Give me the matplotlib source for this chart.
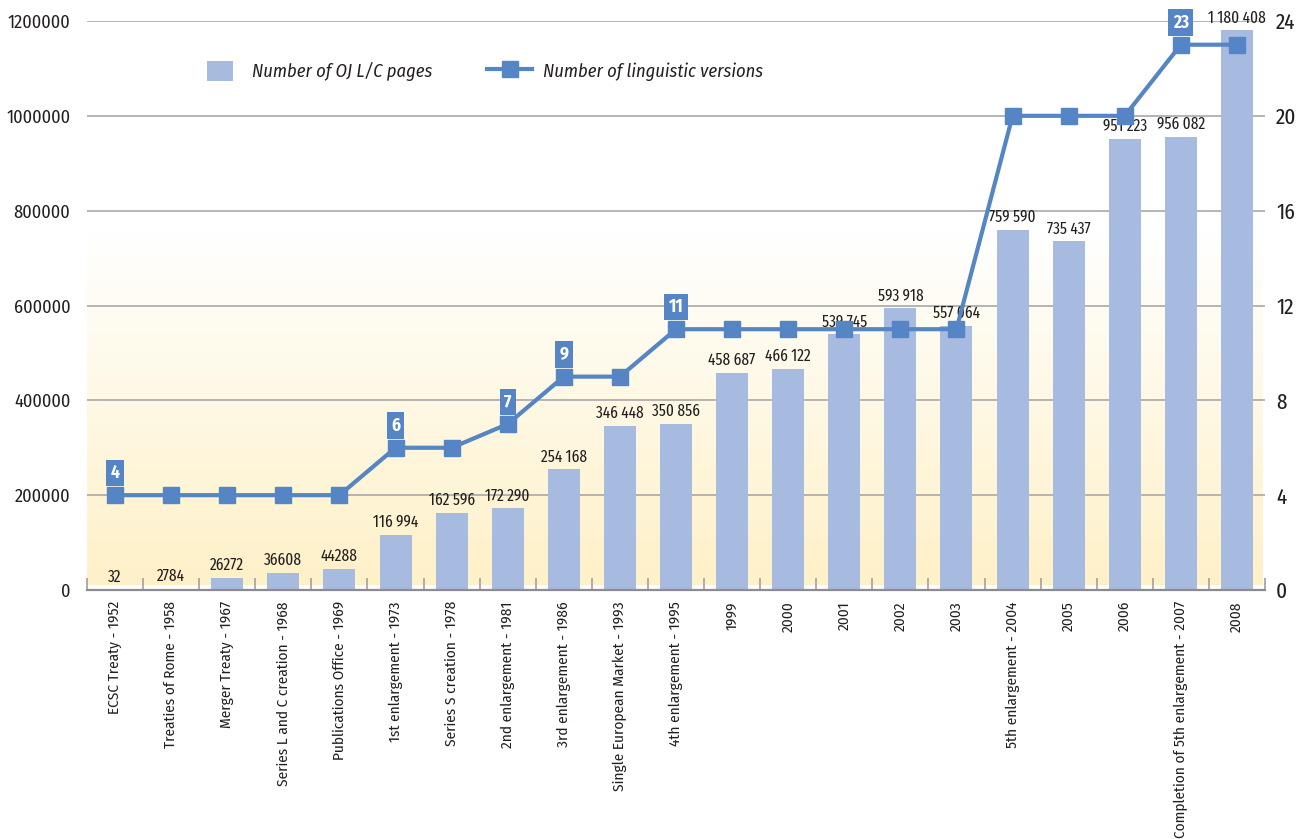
import matplotlib
matplotlib.use("Agg")
import matplotlib.pyplot as plt
import numpy as np
from matplotlib.colors import LinearSegmentedColormap
from matplotlib.ticker import FixedLocator
from matplotlib.legend_handler import HandlerPatch
from matplotlib.patches import Rectangle

plt.rcParams['font.family'] = ['Fira Sans Condensed', 'DejaVu Sans']
NARROW = ['Fira Sans Extra Condensed', 'Fira Sans Condensed', 'DejaVu Sans']

categories = ["ECSC Treaty - 1952", "Treaties of Rome - 1958", "Merger Treaty - 1967",
              "Series L and C creation - 1968", "Publications Office - 1969",
              "1st enlargement - 1973", "Series S creation - 1978", "2nd enlargement - 1981",
              "3rd enlargement - 1986", "Single European Market - 1993", "4th enlargement - 1995",
              "1999", "2000", "2001", "2002", "2003", "5th enlargement - 2004", "2005", "2006",
              "Completion of 5th enlargement - 2007", "2008"]
pages = [32, 2784, 26272, 36608, 44288, 116994, 162596, 172290, 254168, 346448, 350856,
         458687, 466122, 539745, 593918, 557064, 759590, 735437, 951223, 956082, 1180408]
versions = [4, 4, 4, 4, 4, 6, 6, 7, 9, 9, 11, 11, 11, 11, 11, 11, 20, 20, 20, 23, 23]
boxed_idx = [0, 5, 7, 8, 10, 19]
left_ticks = [0, 200000, 400000, 600000, 800000, 1000000, 1200000]
right_ticks = [0, 4, 8, 12, 16, 20, 24]

bar_color = "#A7BBE1"
line_color = "#5585C5"
text_color = "#231F20"
grid_color = "#A8A8A8"

fig = plt.figure(figsize=(12.99, 8.39), dpi=100)
ax = fig.add_axes([87/1299, 1-590/839, (1265-87)/1299, (590-21)/839])
x = np.arange(len(categories))

# gradient background
cmap = LinearSegmentedColormap.from_list("bg", ["#FEF1C8", "#FFFFFF"])
grad = np.linspace(0, 1, 256).reshape(-1, 1)
ax.imshow(grad, cmap=cmap, origin="lower", aspect="auto",
          extent=[-0.5, 20.45, 10000, 760000], zorder=0)

ax.set_xlim(-0.5, 20.5)
ax.set_ylim(0, 1200000)
ax.set_yticks(left_ticks)
ax.set_yticklabels([str(t) for t in left_ticks], fontsize=13.2, color=text_color)
for t in left_ticks[1:]:
    ax.axhline(t, color=grid_color, lw=1.2, zorder=1)

bars = ax.bar(x, pages, width=0.57, color=bar_color, zorder=2, label="Number of OJ L/C pages")

def fmt(v):
    if v >= 100000:
        return f"{v:,}".replace(",", "\u2009")
    return str(v)

for xi, v in zip(x, pages):
    ax.annotate(fmt(v), (xi, v), xytext=(0, 3), textcoords="offset points",
                ha="center", va="bottom", fontsize=12, family=NARROW,
                color=text_color, zorder=5)

for s in ["top", "left", "right"]:
    ax.spines[s].set_visible(False)
ax.spines["bottom"].set_color("#8C8C8C")
ax.spines["bottom"].set_linewidth(1.6)
ax.set_xticks(x)
ax.set_xticklabels(categories, rotation=90, fontsize=11, color=text_color, va="top", ha="center")
ax.tick_params(axis="x", which="major", length=0, pad=8)
ax.xaxis.set_minor_locator(FixedLocator(np.arange(-0.5, 21, 1.0)))
ax.tick_params(axis="x", which="minor", direction="in", length=9, width=1.2, color="#A0A0A0")
ax.tick_params(axis="y", length=0, pad=12)

ax2 = ax.twinx()
ax2.set_ylim(0, 24)
ax2.set_yticks(right_ticks)
ax2.set_yticklabels([str(t) for t in right_ticks], fontsize=16.5, family=NARROW, color=text_color)
ax2.tick_params(axis="y", length=0, pad=8)
for s in ["top", "left", "right", "bottom"]:
    ax2.spines[s].set_visible(False)

line, = ax2.plot(x, versions, color=line_color, lw=3, marker="s", markersize=11,
                 zorder=4, label="Number of linguistic versions")

for i in boxed_idx:
    ax2.annotate(str(versions[i]), (x[i], versions[i]), xytext=(0, 16), textcoords="offset points",
                 ha="center", va="center", fontsize=12.5, fontweight="bold", color="white",
                 bbox=dict(boxstyle="square,pad=0.25", fc=line_color, ec="none"), zorder=6)


class SmallPatch(HandlerPatch):
    def create_artists(self, legend, orig_handle, xdescent, ydescent, width, height, fontsize, trans):
        w, h = 18.7, 14.4
        r = Rectangle((-xdescent + 7.9, -ydescent + height / 2 - h / 2), w, h,
                      facecolor=bar_color, edgecolor="none", transform=trans)
        return [r]


leg = ax2.legend(handles=[bars, line], loc="center left",
                 bbox_to_anchor=(196 / 1299, 1 - 71 / 839), bbox_transform=fig.transFigure,
                 ncol=2, frameon=False, prop=dict(style="italic", size=13.3),
                 handlelength=2.44, handleheight=1.2, columnspacing=2.95, handletextpad=0.6,
                 borderpad=0, borderaxespad=0, handler_map={bars: SmallPatch()})
for t in leg.get_texts():
    t.set_color(text_color)

fig.savefig("out.png", dpi=100)
